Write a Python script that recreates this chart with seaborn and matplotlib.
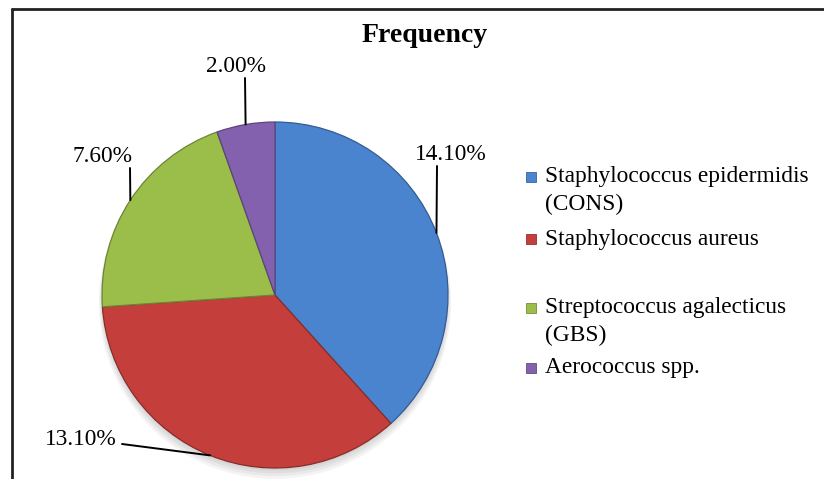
import numpy as np
import matplotlib
matplotlib.use("Agg")
import matplotlib.pyplot as plt
from matplotlib.patches import Rectangle, Circle
from matplotlib.lines import Line2D
import matplotlib.colors as mcolors
import seaborn as sns

# Data
species = [
    "Staphylococcus epidermidis\n(CONS)",
    "Staphylococcus aureus",
    "Streptococcus agalecticus\n(GBS)",
    "Aerococcus spp.",
]
frequency = [14.10, 13.10, 7.60, 2.00]
title = "Frequency"

sns.set_theme(style="white")
plt.rcParams["font.family"] = ["Liberation Serif", "DejaVu Serif"]

palette = sns.color_palette(["#4A84CF", "#C43F3B", "#9BBE4A", "#8461AF"])

W, H = 824, 479
fig = plt.figure(figsize=(W / 100, H / 100), dpi=100)
fig.patch.set_facecolor("white")

# Pie axes: centre (275, 295) px, radius 173 px
cx, cy, r = 275, 295, 173
ax = fig.add_axes([(cx - r) / W, (H - cy - r) / H, 2 * r / W, 2 * r / H])
ax.set_axis_off()

# soft drop shadow beneath the pie
for k in range(4):
    ax.add_patch(Circle((0.0, -0.015 - 0.01 * k), 1.0 + 0.006 * k,
                        facecolor="black", alpha=0.045, lw=0, zorder=0,
                        clip_on=False))

wedges, _ = ax.pie(frequency, colors=palette, startangle=90, counterclock=False,
                   radius=1.0, wedgeprops=dict(linewidth=0.9))
for w, c in zip(wedges, palette):
    w.set_edgecolor(tuple(np.array(mcolors.to_rgb(c)) * 0.7))
    w.set_zorder(2)
    w.set_clip_on(False)
ax.set_xlim(-1, 1)
ax.set_ylim(-1, 1)
ax.set_aspect("equal")

# data labels with leader lines (label centre/baseline px, leader start px)
label_pos = [(451, 160), (81, 445), (102, 162), (236, 72)]
leader_start = [(437, 166), (122, 444), (130, 168), (245, 78)]
fs = 16.8
for w, v, (lx, ly), (sx, sy) in zip(wedges, frequency, label_pos, leader_start):
    fig.text(lx / W, (H - ly) / H, f"{v:.2f}%", ha="center", va="baseline",
             fontsize=fs, color="black")
    mid = np.deg2rad((w.theta1 + w.theta2) / 2)
    ax.annotate("", xy=(np.cos(mid), np.sin(mid)), xycoords="data",
                xytext=(sx, H - sy), textcoords="figure pixels",
                arrowprops=dict(arrowstyle="-", lw=1.4, color="black",
                                shrinkA=0, shrinkB=0), annotation_clip=False)

# Title
fig.text(425 / W, (H - 42) / H, title, ha="center", va="baseline",
         fontsize=20, fontweight="bold", color="black")

# Legend
marker_centres = [176.5, 239, 307.5, 367.5]
text_baselines = [182, 245, 313, 373]
line_gap = 28
for c, lab, mc, tb in zip(palette, species, marker_centres, text_baselines):
    fig.patches.append(Rectangle(((531 - 5) / W, (H - mc - 5) / H), 10 / W, 10 / H,
                                 transform=fig.transFigure, facecolor=c,
                                 edgecolor=tuple(np.array(mcolors.to_rgb(c)) * 0.75),
                                 lw=0.6))
    for i, line in enumerate(lab.split("\n")):
        fig.text(545 / W, (H - tb - i * line_gap) / H, line, ha="left",
                 va="baseline", fontsize=fs, color="black")

# Chart frame (top and left edges)
fig.add_artist(Line2D([12 / W, 12 / W], [0, (H - 9) / H], transform=fig.transFigure,
                      color="#222222", lw=2))
fig.add_artist(Line2D([12 / W, 1], [(H - 9) / H, (H - 9) / H], transform=fig.transFigure,
                      color="#222222", lw=2))

fig.savefig("out.png", dpi=100, facecolor="white")
